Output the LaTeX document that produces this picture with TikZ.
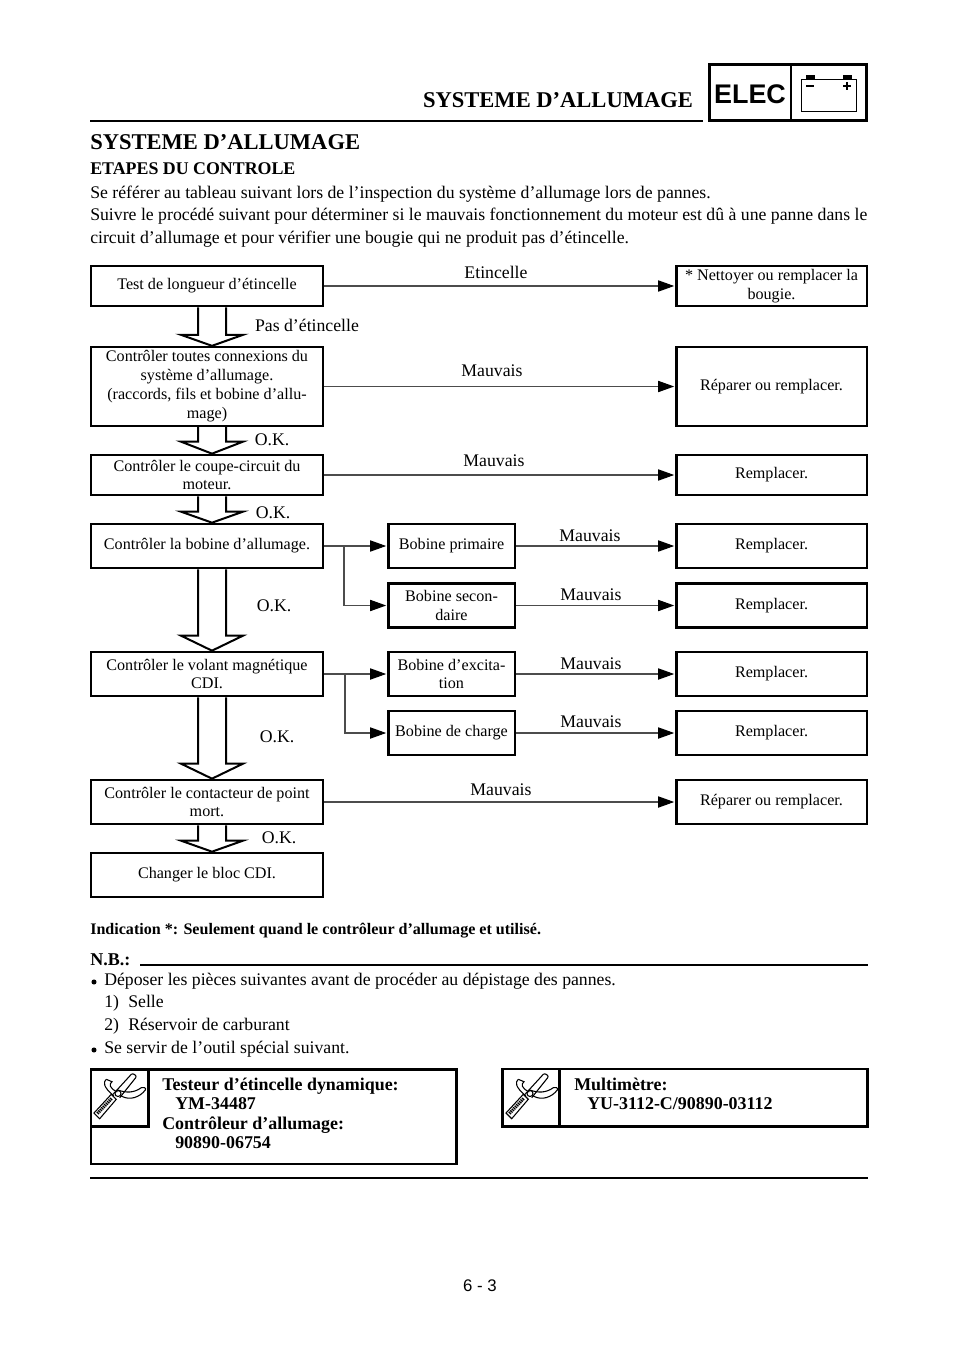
\documentclass[tikz,border=0pt]{standalone}
\usepackage{fontspec}
\setmainfont{Liberation Serif}
\setsansfont{Liberation Sans}
\usetikzlibrary{arrows.meta,calc}

\newcommand{\boxfont}{\fontsize{12.1}{14.2}\selectfont}
\newcommand{\bodyfont}{\fontsize{13.3}{16}\selectfont}
\newcommand{\labelfont}{\fontsize{13.3}{16}\selectfont}

\tikzset{
  stepbox/.style={draw, line width=2pt, inner sep=0pt, minimum width=174pt, align=center, font=\boxfont},
  coilbox/.style={stepbox, minimum width=95pt},
  fixbox/.style={stepbox, minimum width=143pt},
  linelabel/.style={inner sep=0pt, font=\labelfont},
  bodytext/.style={inner sep=0pt, anchor=base west, font=\bodyfont},
  tooltext/.style={bodytext, font=\fontsize{13.45}{16}\selectfont\bfseries},
  flow/.style={draw=black!70, line width=0.8pt, -{Triangle[color=black,length=12pt,width=8.4pt]}, shorten >=0.5pt},
  heavy/.style={line width=2pt},
  hollow/.style={line width=1.5pt, fill=white}
}

% shaft from the lower side of #1, head of depth #3 on the upper side of #2
\newcommand{\okarrow}[3]{
  \draw [hollow] ($(#1.south -| axis)+(-14,0)$) -- ($(#2.north -| axis)+(-14,-#3)$)
    -- ($(#2.north -| axis)+(-31,-#3)$) -- (#2.north -| axis)
    -- ($(#2.north -| axis)+(31,-#3)$) -- ($(#2.north -| axis)+(14,-#3)$)
    -- ($(#1.south -| axis)+(14,0)$);
}
% tester and screwdriver, origin at the corner of the small square
\newcommand{\toolicon}[2]{
  \begin{scope}[shift={(#1,#2)}, line width=0.8pt]
    \draw (4,45) -- (9.7,50.7) -- (26.3,31.3) -- (21.3,26.3) -- cycle;
    \draw [line width=2.4pt, dash pattern=on 1pt off 0.6pt] (7.5,45.5) -- (22,30);
    \draw (23,26.3) -- (41.3,6.3) .. controls (43,4.5) and (47.5,8) .. (45.7,9.7) -- (29.7,29.7);
    \draw (16.3,11.3) .. controls (13,14) and (13,19) .. (24,28);
    \draw (16.3,11.3) -- (22,13.7) .. controls (19,16) and (19,20) .. (27.3,24);
    \draw (28,22) .. controls (36,25) and (44,25) .. (51.3,19.7)
      .. controls (53,18.5) and (57,20) .. (55.3,22)
      .. controls (50,29) and (40,33) .. (31.3,28);
    \draw (28,25.5) circle (3);
  \end{scope}
}

\begin{document}
\begin{tikzpicture}[x=0.75pt,y=-0.75pt]
 \useasboundingbox (0,0) rectangle (960,1358);
 \coordinate (axis) at (212,0);

 % page head
 \node (head) [inner sep=0pt, font=\fontsize{16.9}{18}\selectfont\bfseries] at (558,100) {SYSTEME D’ALLUMAGE};
 \coordinate (headl) at (90,121);
 \coordinate (headr) at (703,121);
 \draw [heavy] (headl) -- (headr);
 \node (elecbox) [draw, line width=2.1pt, minimum width=118pt, minimum height=41.5pt, inner sep=0pt] at (788,92.5) {};
 \draw [line width=2.1pt] (elecbox.north -| 791,0) -- (elecbox.south -| 791,0);
 \node (elec) [inner sep=0pt, font=\fontsize{20.2}{22}\sffamily\bfseries] at (750,94) {ELEC};
 \node (battery) [draw, line width=0.9pt, minimum width=41.5pt, minimum height=24pt, inner sep=0pt] at (829,95.5) {};
 \fill (806,75) rectangle (815,80);
 \fill (843,75) rectangle (852,80);
 \draw [line width=1pt] (806,86) -- (814,86);
 \draw [line width=1pt] (843,86) -- (851,86) (847,82) -- (847,90);

 % title and introduction
 \node (title) [bodytext, font=\fontsize{16.9}{18}\selectfont\bfseries] at (90,150) {SYSTEME D’ALLUMAGE};
 \node (steps) [tooltext, font=\fontsize{13.4}{14}\selectfont\bfseries] at (90,175) {ETAPES DU CONTROLE};
 \node (intro1) [bodytext] at (90,199) {Se référer au tableau suivant lors de l’inspection du système d’allumage lors de pannes.};
 \node (intro2) [bodytext] at (90,221) {Suivre le procédé suivant pour déterminer si le mauvais fonctionnement du moteur est dû à une panne dans le};
 \node (intro3) [bodytext] at (90,244) {circuit d’allumage et pour vérifier une bougie qui ne produit pas d’étincelle.};

 % left column
 \node (test)   [stepbox, minimum height=30pt] at (207,286) {Test de longueur d’étincelle};
 \node (conn)   [stepbox, minimum height=59pt] at (207,386.5) {Contrôler toutes connexions du\\système d’allumage.\\(raccords, fils et bobine d’allu-\\mage)};
 \node (coupe)  [stepbox, minimum height=30pt] at (207,475) {Contrôler le coupe-circuit du\\moteur.};
 \node (bobine) [stepbox, minimum height=33pt] at (207,546) {Contrôler la bobine d’allumage.};
 \node (volant) [stepbox, minimum height=33pt] at (207,674) {Contrôler le volant magnétique\\CDI.};
 \node (point)  [stepbox, minimum height=33pt] at (207,802) {Contrôler le contacteur de point\\mort.};
 \node (bloc)   [stepbox, minimum height=33pt] at (207,875) {Changer le bloc CDI.};

 % middle column
 \node (prim)   [coilbox, minimum height=33pt] at (451.5,546) {Bobine primaire};
 \node (second) [coilbox, minimum height=33pt] at (451.5,605.5) {Bobine secon-\\daire};
 \node (excit)  [coilbox, minimum height=33pt] at (451.5,674) {Bobine d’excita-\\tion};
 \node (charge) [coilbox, minimum height=33pt] at (451.5,733) {Bobine de charge};

 % right column
 \node (fix1) [fixbox, minimum height=30pt] at (771.5,286) {* Nettoyer ou remplacer la\\bougie.};
 \node (fix2) [fixbox, minimum height=59pt] at (771.5,386.5) {Réparer ou remplacer.};
 \node (fix3) [fixbox, minimum height=30pt] at (771.5,475) {Remplacer.};
 \node (fix4) [fixbox, minimum height=33pt] at (771.5,546) {Remplacer.};
 \node (fix5) [fixbox, minimum height=33pt] at (771.5,605.5) {Remplacer.};
 \node (fix6) [fixbox, minimum height=33pt] at (771.5,674) {Remplacer.};
 \node (fix7) [fixbox, minimum height=33pt] at (771.5,733) {Remplacer.};
 \node (fix8) [fixbox, minimum height=33pt] at (771.5,802) {Réparer ou remplacer.};

 % connectors
 \draw [flow] (test) -- (fix1);
 \draw [flow] (conn) -- (fix2);
 \draw [flow] (coupe) -- (fix3);
 \draw [flow] (bobine) -- (prim);
 \draw [flow] (volant) -- (excit);
 \draw [flow] (point) -- (fix8);
 \draw [flow] (prim) -- (fix4);
 \draw [flow] (second) -- (fix5);
 \draw [flow] (excit) -- (fix6);
 \draw [flow] (charge) -- (fix7);
 \coordinate (fork1) at (344,546);
 \coordinate (fork2) at (345,674);
 \draw [flow] (fork1) |- (second);
 \draw [flow] (fork2) |- (charge);

 % hollow arrows
 \okarrow{test}{conn}{11}
 \okarrow{conn}{coupe}{12}
 \okarrow{coupe}{bobine}{11}
 \okarrow{bobine}{volant}{15}
 \okarrow{volant}{point}{15}
 \okarrow{point}{bloc}{11}

 % labels
 \node (l1) [linelabel] at (496,272) {Etincelle};
 \node (l2) [linelabel] at (307,325) {Pas d’étincelle};
 \node (l3) [linelabel] at (492,371) {Mauvais};
 \node (l4) [linelabel] at (272,440) {O.K.};
 \node (l5) [linelabel] at (494,461) {Mauvais};
 \node (l6) [linelabel] at (273,513) {O.K.};
 \node (l7) [linelabel] at (590,536) {Mauvais};
 \node (l8) [linelabel] at (591,595) {Mauvais};
 \node (l9) [linelabel] at (274,606) {O.K.};
 \node (l10) [linelabel] at (591,664) {Mauvais};
 \node (l11) [linelabel] at (591,722) {Mauvais};
 \node (l12) [linelabel] at (277,737) {O.K.};
 \node (l13) [linelabel] at (501,790) {Mauvais};
 \node (l14) [linelabel] at (279,838) {O.K.};

 % notes
 \node (indic) [tooltext, font=\fontsize{12.05}{12}\selectfont\bfseries] at (90,934) {Indication *: Seulement quand le contrôleur d’allumage et utilisé.};
 \node (nb) [tooltext, font=\fontsize{13.5}{14}\selectfont\bfseries] at (90,965) {N.B.:};
 \coordinate (nbl) at (140,965);
 \coordinate (nbr) at (868,965);
 \draw [heavy] (nbl) -- (nbr);
 \node (dot1) [circle, fill, inner sep=0pt, minimum size=3.8pt] at (94,982) {};
 \node (note1) [bodytext] at (104,985) {Déposer les pièces suivantes avant de procéder au dépistage des pannes.};
 \node (num1) [bodytext] at (104,1007) {1)};
 \node (note2) [bodytext] at (128,1007) {Selle};
 \node (num2) [bodytext] at (104,1030) {2)};
 \node (note3) [bodytext] at (128,1030) {Réservoir de carburant};
 \node (dot2) [circle, fill, inner sep=0pt, minimum size=3.8pt] at (94,1050) {};
 \node (note4) [bodytext] at (104,1053) {Se servir de l’outil spécial suivant.};

 % tools
 \node (tool1) [draw, line width=2pt, minimum width=274pt, minimum height=71pt, inner sep=0pt] at (273.5,1116.5) {};
 \node (icon1) [draw, line width=2pt, minimum size=43pt, inner sep=0pt, anchor=north west] at (tool1.north west) {};
 \toolicon{90}{1068}
 \node (t1) [tooltext] at (162,1090) {Testeur d’étincelle dynamique:};
 \node (t2) [tooltext] at (175,1109) {YM-34487};
 \node (t3) [tooltext] at (162,1129) {Contrôleur d’allumage:};
 \node (t4) [tooltext] at (175,1148) {90890-06754};
 \node (tool2) [draw, line width=2pt, minimum width=274pt, minimum height=43pt, inner sep=0pt] at (685,1097.5) {};
 \node (icon2) [draw, line width=2pt, minimum size=43pt, inner sep=0pt, anchor=north west] at (tool2.north west) {};
 \toolicon{502}{1068}
 \node (t5) [tooltext] at (574,1090) {Multimètre:};
 \node (t6) [tooltext] at (587,1109) {YU-3112-C/90890-03112};

 % page foot
 \coordinate (footl) at (90,1178);
 \coordinate (footr) at (868,1178);
 \draw [heavy] (footl) -- (footr);
 \node (page) [inner sep=0pt, font=\fontsize{12.6}{14}\sffamily] at (480,1286) {6 - 3};
\end{tikzpicture}
\end{document}
